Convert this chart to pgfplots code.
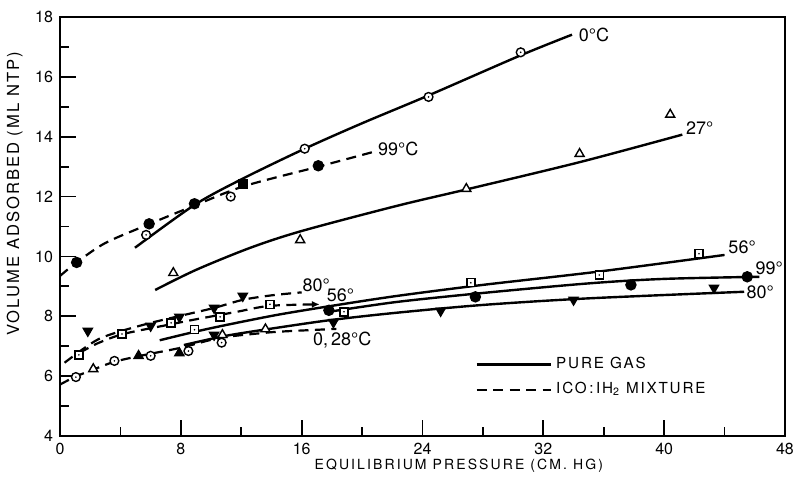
\documentclass[border=0pt]{standalone}
\usepackage{fontspec}
\setmainfont{TeX Gyre Heros}
\newfontfamily\spacedx[LetterSpace=15]{TeX Gyre Heros}
\newfontfamily\spacedy[LetterSpace=12]{TeX Gyre Heros}
\newfontfamily\spacedl[LetterSpace=12]{TeX Gyre Heros}
\usepackage{pgfplots}
\pgfplotsset{compat=1.18}
\usetikzlibrary{arrows.meta}
\pgfdeclareplotmark{dotcircle}{%
  \pgfpathcircle{\pgfpointorigin}{\pgfplotmarksize}%
  \pgfsetfillcolor{white}\pgfusepathqfillstroke
  \pgfpathcircle{\pgfpointorigin}{0.45pt}%
  \pgfsetfillcolor{black}\pgfusepathqfill}
\pgfdeclareplotmark{dotsquare}{%
  \pgfpathrectangle{\pgfpoint{-\pgfplotmarksize}{-\pgfplotmarksize}}{\pgfpoint{2\pgfplotmarksize}{2\pgfplotmarksize}}%
  \pgfsetfillcolor{white}\pgfusepathqfillstroke
  \pgfpathcircle{\pgfpointorigin}{0.45pt}%
  \pgfsetfillcolor{black}\pgfusepathqfill}
\begin{document}
\begin{tikzpicture}
\begin{axis}[name=ax, scale only axis, width=362.2pt, height=209.35pt,
  xmin=0, xmax=48, ymin=4, ymax=18,
  xtick={0,8,...,48}, ytick={4,6,...,18},
  minor x tick num=1, minor y tick num=1,
  tick align=inside, xtick pos=bottom, ytick pos=left,
  major tick length=8pt, minor tick length=4.5pt,
  every tick/.append style={black, line width=0.9pt},
  axis line style={line width=1.3pt},
  tick label style={font=\fontsize{8}{9}\selectfont},
  /pgf/number format/assume math mode=true,
  xlabel={\spacedx EQUILIBRIUM PRESSURE (CM.\ HG)},
  ylabel={\spacedy VOLUME ADSORBED (ML NTP)},
  xlabel style={font=\fontsize{7}{8}\selectfont, at={(axis description cs:0.55,-0.071)}, anchor=center},
  ylabel style={font=\fontsize{8.3}{9}\selectfont, at={(axis description cs:-0.0625,0.578)}, anchor=center},
  legend style={at={(axis cs:27.5,6.78)}, anchor=north west, draw=none, fill=none,
    font=\fontsize{7.6}{8}\selectfont\spacedl, row sep=1.5pt, inner sep=0pt,
    legend cell align=left},
  legend image code/.code={\draw[#1] (0pt,0pt) -- (29pt,0pt); \path (0pt,0pt) -- (37pt,0pt);},
  solid line/.style={black, line width=1.2pt, smooth, tension=0.5},
  dash line/.style={black, line width=1.1pt, smooth, tension=0.5, dash pattern=on 5pt off 3.2pt},
  mk/.style={only marks, black, line width=0.7pt, mark size=2.2pt},
]
\addlegendimage{black, line width=1.2pt}
\addlegendentry{PURE GAS}
\addlegendimage{black, line width=1.1pt, dash pattern=on 5pt off 3.2pt}
\addlegendentry{ICO\,:\,IH\textsubscript{2} MIXTURE}

% 0 C pure
\addplot[solid line, forget plot] coordinates {(4.96,10.29) (8.9,11.72) (12.1,12.6) (16.2,13.6) (20,14.45) (24.4,15.38) (30.5,16.72) (33.9,17.41)};
\addplot[mk, mark=dotcircle, forget plot] coordinates {(5.7,10.72) (11.3,12.0) (16.2,13.6) (24.4,15.33) (30.5,16.82)};
% 99 C mixture
\addplot[dash line, forget plot] coordinates {(0,9.35) (1.1,9.8) (3,10.45) (5.9,11.08) (8.9,11.7) (12.2,12.35) (17.1,13.0) (20.8,13.5)};
\addplot[mk, mark=*, mark size=2.5pt, forget plot] coordinates {(1.1,9.8) (5.9,11.09) (8.9,11.76) (17.1,13.03)};
\addplot[mk, mark=square*, mark size=2.2pt, forget plot] coordinates {(12.1,12.43)};
% 27 pure
\addplot[solid line, forget plot] coordinates {(6.3,8.88) (9,9.55) (12.6,10.29) (16,10.85) (22.3,11.69) (27,12.25) (34.4,13.15) (41.2,14.07)};
\addplot[mk, mark=triangle*, mark options={fill=white}, mark size=2.6pt, forget plot] coordinates {(7.5,9.45) (15.9,10.55) (26.9,12.26) (34.4,13.43) (40.4,14.74)};
% 56 pure
\addplot[solid line, forget plot] coordinates {(6.6,7.2) (8.9,7.48) (11,7.71) (14.4,8.05) (18,8.35) (22.3,8.68) (28,9.05) (35.6,9.49) (44,10.05)};
\addplot[mk, mark=dotsquare, mark size=2pt, forget plot] coordinates {(8.9,7.55) (18.8,8.15) (27.2,9.12) (35.7,9.38) (42.3,10.09)};
% 99 pure
\addplot[solid line, forget plot] coordinates {(17.8,8.15) (22.3,8.48) (28,8.78) (35,9.1) (40,9.25) (46.3,9.32)};
\addplot[mk, mark=*, mark size=2.5pt, forget plot] coordinates {(17.8,8.2) (27.5,8.65) (37.8,9.05) (45.5,9.32)};
% 80 pure
\addplot[solid line, forget plot] coordinates {(8.2,7.04) (11,7.35) (14.4,7.62) (18,7.88) (22.3,8.12) (28,8.38) (35,8.6) (45.3,8.82)};
\addplot[mk, mark=triangle*, mark options={rotate=180}, mark size=2.6pt, forget plot] coordinates {(10.2,7.38) (18.1,7.8) (25.2,8.18) (34.0,8.55) (43.3,8.95)};
% 80 mixture
\addplot[dash line, forget plot] coordinates {(0.3,6.45) (1.5,6.9) (2.6,7.25) (4,7.5) (6,7.78) (8,8.02) (10.2,8.28) (12.1,8.55) (14,8.7) (16,8.8)};
\addplot[mk, mark=triangle*, mark options={rotate=180}, mark size=2.6pt, forget plot] coordinates {(1.84,7.51) (6.0,7.68) (7.9,7.98) (10.2,8.28) (12.1,8.68)};
% 56 mixture
\addplot[dash line, forget plot, -{Latex[length=4pt,width=3.5pt]}] coordinates {(1.3,6.78) (2.5,7.1) (4.2,7.41) (7.1,7.71) (9,7.9) (11.7,8.15) (13.9,8.35) (17.2,8.4)};
\addplot[mk, mark=dotsquare, mark size=2pt, forget plot] coordinates {(1.25,6.71) (4.1,7.41) (7.35,7.78) (10.6,7.98) (13.9,8.4)};
% 0,28 mixture
\addplot[dash line, forget plot] coordinates {(0,5.72) (1,5.98) (2.2,6.22) (3.6,6.48) (5.5,6.7) (8,6.95) (10.6,7.28) (13.6,7.45) (15,7.5) (18.3,7.58)};
\addplot[mk, mark=dotcircle, forget plot] coordinates {(1.05,5.97) (3.6,6.51) (6.0,6.68) (8.5,6.84) (10.7,7.12)};
\addplot[mk, mark=triangle*, mark options={fill=white}, mark size=2.6pt, forget plot] coordinates {(2.2,6.24) (10.75,7.38) (13.6,7.57)};
\addplot[mk, mark=triangle*, mark size=2.6pt, forget plot] coordinates {(5.2,6.68) (7.9,6.77)};

% curve labels
\begin{scope}[every node/.style={font=\fontsize{9}{10}\selectfont, inner sep=1pt}]
\node[anchor=west] at (axis cs:34.2,17.4) {0°C};
\node[anchor=west] at (axis cs:20.9,13.6) {99°C};
\node[anchor=west] at (axis cs:41.3,14.3) {27°};
\node[anchor=west] at (axis cs:44.1,10.3) {56°};
\node[anchor=west] at (axis cs:45.9,9.62) {99°};
\node[anchor=west] at (axis cs:45.3,8.8) {80°};
\node[anchor=west] at (axis cs:15.9,9.05) {80°};
\node[anchor=west] at (axis cs:17.5,8.72) {56°};
\node[anchor=west] at (axis cs:16.6,7.2) {0,\,28°C};
\end{scope}
\end{axis}
\pgfresetboundingbox
\path[use as bounding box] ([shift={(-30pt,-22.5pt)}]ax.south west) rectangle ([shift={(4pt,8.5pt)}]ax.north east);
\end{tikzpicture}
\end{document}
